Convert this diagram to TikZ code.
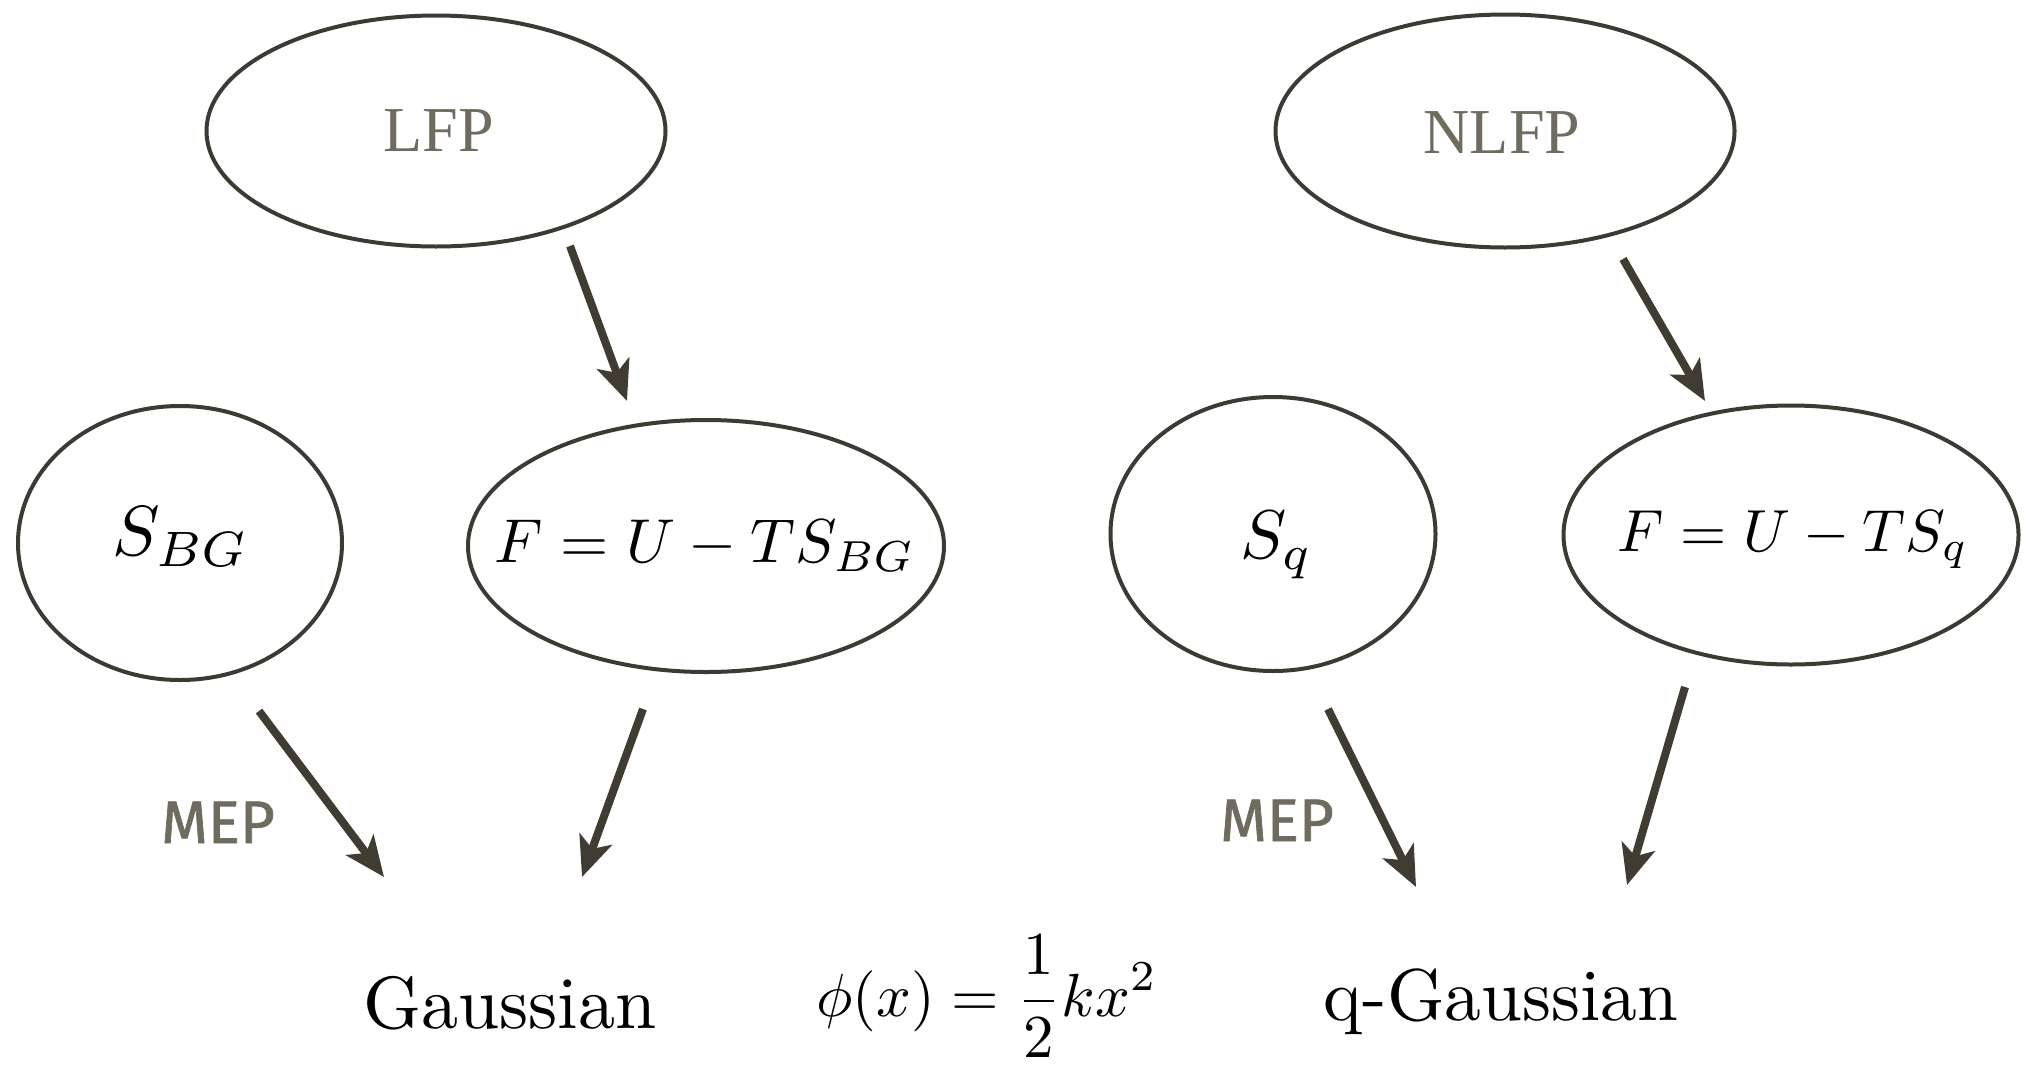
\documentclass[tikz,border=0pt]{standalone}
\usepackage{graphicx}
\usepackage{fontspec}
\newfontfamily\timesfont{Liberation Serif}
\newfontfamily\mepfont{Fira Sans}[FakeBold=1.2]
\usetikzlibrary{shapes.geometric,arrows.meta}
\definecolor{edgecol}{HTML}{3D3A33}
\definecolor{arrcol}{HTML}{403C31}
\definecolor{lblcol}{HTML}{6F6B5E}
\begin{document}
\begin{tikzpicture}[x=0.5pt,y=-0.5pt,
  ell/.style={ellipse,draw=edgecol,line width=2pt,inner sep=0pt},
  conn/.style={draw=arrcol,line width=4pt,-{Stealth[length=20pt,width=17pt,inset=5pt]}},
  toplbl/.style={font=\fontsize{32}{32}\timesfont,text=lblcol},
  mathlbl/.style={inner sep=0pt},
  meplbl/.style={font=\fontsize{30}{30}\mepfont,text=lblcol,anchor=base},
  bottxt/.style={inner sep=0pt,anchor=base}
]
\useasboundingbox (0,0) rectangle (2028,1071);
% ellipses
\node[ell,minimum width=229.5pt,minimum height=115.5pt] (lfp) at (436,131) {};
\node[toplbl] (lfpt) at (439,131) {LFP};
\node[ell,minimum width=229.5pt,minimum height=116.5pt] (nlfp) at (1505,131) {};
\node[toplbl] (nlfpt) at (1502,133) {NLFP};
\node[ell,minimum width=162pt,minimum height=137pt] (sbg) at (180,543) {};
\node[mathlbl] (sbgt) at (181,537) {\scalebox{3.55}{$S_{BG}$}};
\node[ell,minimum width=238pt,minimum height=126pt] (fl) at (706,546) {};
\node[mathlbl] (flt) at (705,546) {\scalebox{3.1}{$F=U-TS_{BG}$}};
\node[ell,minimum width=162.5pt,minimum height=137pt] (sq) at (1273,534) {};
\node[mathlbl] (sqt) at (1277,545) {\scalebox{3.45}{$S_q$}};
\node[ell,minimum width=227.5pt,minimum height=129.5pt] (fr) at (1791,535) {};
\node[mathlbl] (frt) at (1793,540) {\scalebox{2.97}{$F=U-TS_q$}};
% bottom texts
\node[bottxt] (gauss) at (510,1028) {\scalebox{3.7}{Gaussian}};
\node[bottxt] (qgauss) at (1501,1020) {\scalebox{3.67}{q-Gaussian}};
\node[bottxt] (phi) at (987,1016) {\scalebox{3.05}{$\displaystyle \phi(x)=\frac{1}{2}kx^2$}};
\node[meplbl] (mep1) at (218,843) {MEP};
\node[meplbl] (mep2) at (1277,841) {MEP};
% arrow end points
\coordinate (a1s) at (570,246);  \coordinate (a1e) at (627,401);
\coordinate (a2s) at (1623,259); \coordinate (a2e) at (1705,401);
\coordinate (a3s) at (259,711);  \coordinate (a3e) at (384,877);
\coordinate (a4s) at (643,709);  \coordinate (a4e) at (582,877);
\coordinate (a5s) at (1328,709); \coordinate (a5e) at (1416,887);
\coordinate (a6s) at (1685,687); \coordinate (a6e) at (1627,885);
\draw[conn] (a1s) -- (a1e);
\draw[conn] (a2s) -- (a2e);
\draw[conn] (a3s) -- (a3e);
\draw[conn] (a4s) -- (a4e);
\draw[conn] (a5s) -- (a5e);
\draw[conn] (a6s) -- (a6e);
\end{tikzpicture}
\end{document}
